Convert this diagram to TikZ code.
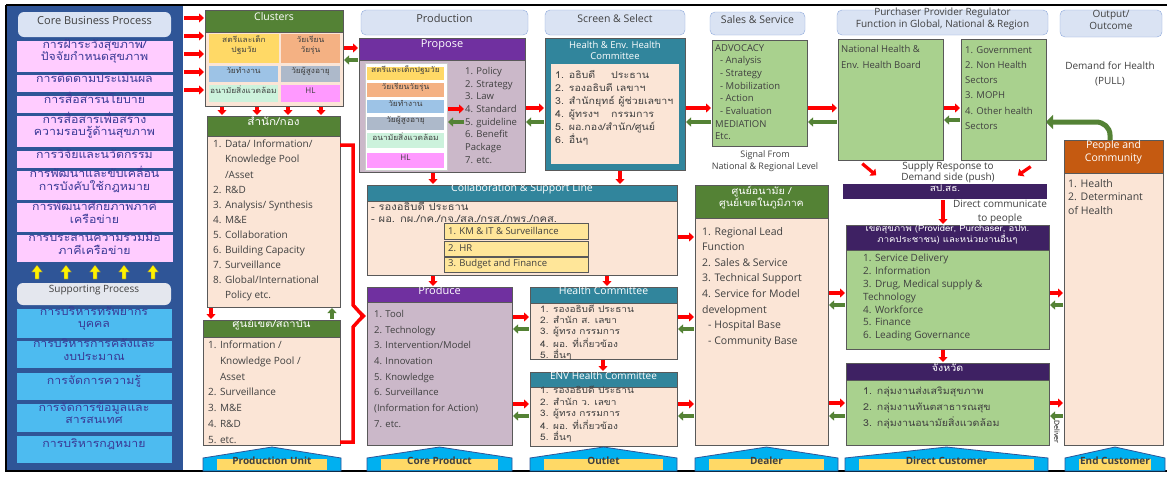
\documentclass[tikz,border=0pt]{standalone}
\usepackage{fontspec}
\setmainfont{Open Sans}
\newfontfamily\thaif[Script=Thai,FakeStretch=1.12]{Loma}
\usetikzlibrary{fit,arrows.meta,calc}
\pgfdeclarelayer{bg}
\pgfsetlayers{bg,main}
\definecolor{panelblue}{HTML}{2F5597}
\definecolor{navyt}{HTML}{3A3A96}
\definecolor{pinkc}{HTML}{FFCCFF}
\definecolor{cyanc}{HTML}{4DBBF0}
\definecolor{hdrfill}{HTML}{DAE3F3}
\definecolor{hdrdraw}{HTML}{8FAADC}
\definecolor{supfill}{HTML}{E4E7EE}
\definecolor{greenh}{HTML}{548235}
\definecolor{peach}{HTML}{FBE5D6}
\definecolor{cyel}{HTML}{FFD966}
\definecolor{cora}{HTML}{F4B183}
\definecolor{cblu}{HTML}{9DC3E6}
\definecolor{cgry}{HTML}{ADB9CA}
\definecolor{cmint}{HTML}{CCF2DC}
\definecolor{cpink}{HTML}{FF99FF}
\definecolor{purh}{HTML}{7030A0}
\definecolor{mauve}{HTML}{CBB8C9}
\definecolor{tealh}{HTML}{31859C}
\definecolor{lgreen}{HTML}{A9D18E}
\definecolor{dpur}{HTML}{3E2163}
\definecolor{orh}{HTML}{C55A11}
\definecolor{arred}{HTML}{FF0000}
\definecolor{argreen}{HTML}{548235}
\definecolor{basecyan}{HTML}{00B0F0}
\definecolor{yelbox}{HTML}{FFE699}
\definecolor{txt}{HTML}{404040}
\definecolor{edge}{HTML}{595959}
\tikzset{
  fbox/.style={inner sep=0pt, outer sep=0pt},
  pinkbox/.style={draw=panelblue, fill=pinkc, line width=0.6pt, text=navyt, align=center, font=\thaif\fontsize{11}{12.5}\selectfont},
  cyanbox/.style={draw=panelblue, fill=cyanc, line width=0.6pt, text=navyt, align=center, font=\thaif\fontsize{11}{12.5}\selectfont},
  topbox/.style={draw=hdrdraw, fill=hdrfill, rounded corners=5pt, text=txt, align=center, font=\fontsize{10.5}{12}\selectfont},
  bodyb/.style={draw=edge, line width=0.6pt},
  hbar/.style={draw=edge, line width=0.6pt, text=white, align=center},
  cellb/.style={text=txt, align=center, font=\thaif\fontsize{7.5}{10}\selectfont},
  listb/.style={inner sep=0pt, anchor=north west, align=left, text=txt},
  freetext/.style={inner sep=0pt, align=center, text=txt},
  rarr/.style={draw=arred, line width=3.2pt, -{Triangle[length=5pt,width=9pt]}, shorten <=1pt, shorten >=1pt},
  garr/.style={draw=argreen, line width=3.2pt, -{Triangle[length=5pt,width=9pt]}, shorten <=1pt, shorten >=1pt},
}
\newcommand{\bx}[7]{\node[fbox,#6,fit={(#2,#3)(#4,#5)}] (#1) {#7};}
\newcommand{\rR}[3]{\draw[rarr] (#1.east |- 0,#3) -- (#2.west |- 0,#3);}
\newcommand{\gL}[3]{\draw[garr] (#2.west |- 0,#3) -- (#1.east |- 0,#3);}
\newcommand{\rD}[3]{\draw[rarr] (#1.south -| #3,0) -- (#2.north -| #3,0);}
\newcommand{\gU}[3]{\draw[garr] (#2.north -| #3,0) -- (#1.south -| #3,0);}
\newcommand{\basebox}[4]{%
  \filldraw[fill=basecyan,draw=panelblue,line width=0.8pt] (#2,471) -- (#2,458) -- ({(#2+#3)/2},447) -- (#3,458) -- (#3,471) -- cycle;
  \node[fbox,fill=cyel,text=txt,font=\bfseries\fontsize{10}{10}\selectfont,fit={({#2+14},459)({#3-14},470)}] (#1) {#4};}
\newcommand{\yarr}[1]{\filldraw[fill=yellow,draw=black!60,line width=0.3pt] ({#1-2},279) -- ({#1-2},272) -- ({#1-5.5},272) -- (#1,265) -- ({#1+5.5},272) -- ({#1+2},272) -- ({#1+2},279) -- cycle;}
\begin{document}
\begin{tikzpicture}[x=1pt,y=-1pt]
\useasboundingbox (0,0) rectangle (1167,477);
\fill[white] (0,0) rectangle (1167,477);
% ---------- left panel
\bx{panel}{7}{6}{183}{470}{fill=panelblue}{}
\bx{core}{18}{12}{171}{37}{topbox,draw=none,rounded corners=6pt,font=\fontsize{11}{12}\selectfont}{Core Business Process}
\bx{p1}{16}{40}{173}{72}{pinkbox}{การฝ้าระวังสุขภาพ/\\ปัจจัยกำหนดสุขภาพ}
\bx{p2}{16}{74}{173}{92}{pinkbox}{การติดตามประเมินผล}
\bx{p3}{16}{95}{173}{113}{pinkbox}{การสื่อสารนโยบาย}
\bx{p4}{16}{115}{173}{147}{pinkbox}{การสื่อสารเพื่อสร้าง\\ความรอบรู้ด้านสุขภาพ}
\bx{p5}{16}{150}{173}{168}{pinkbox}{การวิจัยและนวัตกรรม}
\bx{p6}{16}{170}{173}{200}{pinkbox}{การพัฒนาและขับเคลื่อน\\การบังคับใช้กฎหมาย}
\bx{p7}{16}{202}{173}{232}{pinkbox}{การพัฒนาศักยภาพภาคี\\เครือข่าย}
\bx{p8}{16}{234}{173}{262}{pinkbox}{การประสานความร่วมมือ\\ภาคีเครือข่าย}
\yarr{37}\yarr{66}\yarr{95}\yarr{124}\yarr{153}
\bx{supp}{17}{283}{171}{305}{topbox,draw=none,fill=supfill,rounded corners=6pt,font=\fontsize{10}{12}\selectfont}{Supporting Process}
\bx{s1}{16}{308}{172}{338}{cyanbox}{การบริหารทรัพยากร\\บุคคล}
\bx{s2}{16}{340}{172}{368}{cyanbox}{การบริหารการคลังและ\\งบประมาณ}
\bx{s3}{16}{372}{172}{400}{cyanbox}{การจัดการความรู้}
\bx{s4}{16}{403}{172}{432}{cyanbox}{การจัดการข้อมูลและ\\สารสนเทศ}
\bx{s5}{16}{435}{172}{463}{cyanbox}{การบริหารกฎหมาย}
% frame
\draw[line width=1.4pt] (6,5) -- (1167,5);
\draw[line width=1.4pt] (6,5) -- (6,471) -- (1167,471);
% ---------- clusters
\bx{clus}{205}{10}{343}{106}{bodyb,fill=peach}{}
\bx{clush}{205}{10}{343}{32}{hbar,fill=greenh,font=\fontsize{10.5}{12}\selectfont}{Clusters}
\bx{c1}{209}{34}{279}{63}{cellb,fill=cyel}{สตรีและเด็ก\\ปฐมวัย}
\bx{c2}{281}{34}{340}{63}{cellb,fill=cora}{วัยเรียน\\วัยรุ่น}
\bx{c3}{209}{66}{278}{82}{cellb,fill=cblu}{วัยทำงาน}
\bx{c4}{281}{66}{340}{82}{cellb,fill=cgry}{วัยผู้สูงอายุ}
\bx{c5}{209}{85}{278}{102}{cellb,fill=cmint}{อนามัยสิ่งแวดล้อม}
\bx{c6}{281}{85}{340}{102}{cellb,fill=cpink,font=\fontsize{8}{10}\selectfont}{HL}
% ---------- samnak
\bx{sam}{207}{116}{340}{307}{bodyb,fill=peach}{}
\bx{samh}{207}{116}{340}{136}{hbar,fill=greenh,font=\thaif\fontsize{10.5}{12}\selectfont}{สำนัก/กอง}
\node[listb,font=\fontsize{10}{15.1}\selectfont] (saml) at (213,140) {1. Data/ Information/\\\phantom{1. }Knowledge Pool\\\phantom{1. }/Asset\\2. R\&D\\3. Analysis/ Synthesis\\4. M\&E\\5. Collaboration\\6. Building Capacity\\7. Surveillance\\8. Global/International\\\phantom{8. }Policy etc.};
% ---------- sun khet
\bx{sun}{203}{320}{340}{445}{bodyb,fill=peach}{}
\bx{sunh}{203}{320}{340}{337}{hbar,fill=greenh,font=\thaif\fontsize{10}{12}\selectfont}{ศูนย์เขต/สถาบัน}
\node[listb,font=\fontsize{10}{15.7}\selectfont] (sunl) at (208,341) {1. Information /\\\phantom{1. }Knowledge Pool /\\\phantom{1. }Asset\\2. Surveillance\\3. M\&E\\4. R\&D\\5. etc.};
\basebox{bpu}{203}{341}{Production Unit}
% ---------- production / propose
\bx{prodt}{361}{10}{528}{35}{topbox,font=\fontsize{11}{12}\selectfont}{Production}
\bx{prop}{359}{38}{525}{172}{bodyb,fill=mauve}{}
\bx{proph}{359}{38}{525}{60}{hbar,fill=purh,font=\fontsize{11}{12}\selectfont}{Propose}
\bx{ppan}{365}{63}{447}{170}{fill=white,draw=black!20}{}
\bx{q1}{367}{67}{444}{80}{cellb,fill=cyel}{สตรีและเด็กปฐมวัย}
\bx{q2}{367}{83}{444}{97}{cellb,fill=cora}{วัยเรียนวัยรุ่น}
\bx{q3}{367}{100}{444}{113}{cellb,fill=cblu}{วัยทำงาน}
\bx{q4}{367}{117}{444}{130}{cellb,fill=cgry}{วัยผู้สูงอายุ}
\bx{q5}{367}{133}{444}{148}{cellb,fill=cmint}{อนามัยสิ่งแวดล้อม}
\bx{q6}{367}{153}{444}{168}{cellb,fill=cpink,font=\fontsize{8}{10}\selectfont}{HL}
\node[listb,font=\fontsize{9.5}{12.7}\selectfont] (plist) at (465,67) {1. Policy\\2. Strategy\\3. Law\\4. Standard\\5. guideline\\6. Benefit\\Package\\7. etc.};
% ---------- screen & select
\bx{scrt}{545}{10}{685}{35}{topbox}{Screen \& Select}
\bx{scr}{545}{38}{685}{170}{bodyb,fill=tealh}{}
\node[freetext,text=white,font=\fontsize{9.5}{11}\selectfont] (scrh) at (615,50) {Health \& Env. Health\\Committee};
\bx{scri}{551}{64}{679}{164}{fill=peach}{}
\node[listb,font=\thaif\fontsize{9.5}{13}\selectfont] (scrl) at (555,70) {\makebox[56pt][l]{1. อธิบดี}ประธาน\\2. รองอธิบดี เลขาฯ\\3. สำนักยุทธ์ ผู้ช่วยเลขาฯ\\\makebox[56pt][l]{4. ผู้ทรงฯ}กรรมการ\\5. ผอ.กอง/สำนัก/ศูนย์\\6. อื่นๆ};
% ---------- sales
\bx{salt}{710}{12}{805}{35}{topbox}{Sales \& Service}
\bx{sal}{712}{40}{807}{146}{bodyb,fill=lgreen}{}
\node[listb,font=\fontsize{9.5}{12.7}\selectfont] (sall) at (715,44) {ADVOCACY\\\hspace*{5pt}- Analysis\\\hspace*{5pt}- Strategy\\\hspace*{5pt}- Mobilization\\\hspace*{5pt}- Action\\\hspace*{5pt}- Evaluation\\MEDIATION\\Etc.};
\node[freetext,font=\fontsize{9}{12}\selectfont] (signal) at (765,161) {Signal From\\National \& Regional Level};
% ---------- purchaser
\bx{purt}{837}{10}{1048}{35}{topbox,font=\fontsize{10}{12}\selectfont}{Purchaser Provider Regulator\\Function in Global, National \& Region}
\bx{nat}{838}{39}{943}{160}{bodyb,fill=lgreen}{}
\node[listb,font=\fontsize{9.5}{16}\selectfont] (natl) at (841,45) {National Health \&\\Env. Health Board};
\bx{gov}{961}{39}{1046}{160}{bodyb,fill=lgreen}{}
\node[listb,font=\fontsize{9.5}{15.3}\selectfont] (govl) at (965,46) {1. Government\\2. Non Health\\Sectors\\3. MOPH\\4. Other health\\Sectors};
% ---------- output
\bx{outt}{1060}{10}{1162}{37}{topbox,font=\fontsize{10}{12}\selectfont}{Output/\\Outcome}
\node[freetext,font=\fontsize{10}{15}\selectfont] (demand) at (1110,74) {Demand for Health\\(PULL)};
\bx{peo}{1064}{140}{1163}{445}{bodyb,fill=peach}{}
\bx{peoh}{1064}{140}{1163}{173}{hbar,fill=orh,font=\fontsize{10.5}{13}\selectfont}{People and\\Community};
\node[listb,font=\fontsize{10.5}{13.5}\selectfont] (peol) at (1068,179) {1. Health\\2. Determinant\\of Health};
% ---------- collaboration
\bx{collab}{367}{185}{677}{275}{bodyb,fill=peach}{}
\bx{collh}{367}{185}{677}{201}{hbar,fill=tealh,font=\fontsize{10.5}{12}\selectfont}{Collaboration \& Support Line}
\node[listb,font=\thaif\fontsize{10}{12}\selectfont] (colll) at (371,202) {- รองอธิบดี ประธาน\\- ผอ. กผ./กค./กจ./สล./กรส./กพร./กคส.};
\bx{k1}{444}{223}{588}{239}{bodyb,fill=yelbox}{}
\bx{k2}{444}{241}{588}{256}{bodyb,fill=yelbox}{}
\bx{k3}{444}{257}{588}{272}{bodyb,fill=yelbox}{}
\node[freetext,anchor=west,font=\fontsize{9.5}{11}\selectfont] (k1t) at (448,231) {1. KM \& IT \& Surveillance};
\node[freetext,anchor=west,font=\fontsize{9.5}{11}\selectfont] (k2t) at (448,248.5) {2. HR};
\node[freetext,anchor=west,font=\fontsize{9.5}{11}\selectfont] (k3t) at (448,264.5) {3. Budget and Finance};
% ---------- produce
\bx{produce}{367}{287}{512}{445}{bodyb,fill=mauve}{}
\bx{produceh}{367}{287}{512}{302}{hbar,fill=purh,font=\fontsize{11}{12}\selectfont}{Produce}
\node[listb,font=\fontsize{9.5}{15.7}\selectfont] (producel) at (374,310) {1. Tool\\2. Technology\\3. Intervention/Model\\4. Innovation\\5. Knowledge\\6. Surveillance\\(Information for Action)\\7. etc.};
\basebox{bcp}{367}{512}{Core Product}
% ---------- committees
\bx{hc}{530}{287}{677}{359}{bodyb,fill=peach}{}
\bx{hch}{530}{287}{677}{303}{hbar,fill=tealh,font=\fontsize{10.5}{12}\selectfont}{Health Committee}
\node[listb,font=\thaif\fontsize{9}{11}\selectfont] (hcl) at (540,305) {1. รองอธิบดี ประธาน\\2. สำนัก ส. เลขา\\3. ผู้ทรง กรรมการ\\4. ผอ. ที่เกี่ยวข้อง\\5. อื่นๆ};
\bx{env}{530}{372}{677}{446}{bodyb,fill=peach}{}
\bx{envh}{530}{372}{677}{387}{hbar,fill=tealh,font=\fontsize{10}{12}\selectfont}{ENV Health Committee}
\node[listb,font=\thaif\fontsize{9}{11.5}\selectfont] (envl) at (540,386) {1. รองอธิบดี ประธาน\\2. สำนัก ว. เลขา\\3. ผู้ทรง กรรมการ\\4. ผอ. ที่เกี่ยวข้อง\\5. อื่นๆ};
\basebox{bout}{530}{677}{Outlet}
% ---------- sun anamai
\bx{sunah}{695}{185}{828}{445}{bodyb,fill=peach}{}
\bx{sunahh}{695}{185}{828}{218}{hbar,fill=greenh,font=\thaif\fontsize{9.5}{12}\selectfont}{ศูนย์อนามัย /\\ศูนย์เขตในภูมิภาค}
\node[listb,font=\fontsize{10.5}{15.6}\selectfont] (sunahl) at (702,227) {1. Regional Lead\\Function\\2. Sales \& Service\\3. Technical Support\\4. Service for Model\\development\\\hspace*{6pt}- Hospital Base\\\hspace*{6pt}- Community Base};
\basebox{bdeal}{695}{838}{Dealer}
% ---------- right side
\bx{spsh}{843}{184}{1047}{199}{hbar,draw=none,fill=dpur,font=\thaif\fontsize{9}{11}\selectfont}{สป.สธ.}
\node[freetext,font=\fontsize{10}{11}\selectfont] (supply) at (948,172) {Supply Response to\\Demand side (push)};
\bx{khet}{846}{225}{1049}{349}{bodyb,fill=lgreen}{}
\bx{kheth}{846}{225}{1049}{250}{hbar,fill=dpur,font=\thaif\fontsize{8.5}{11}\selectfont}{เขตสุขภาพ (Provider, Purchaser, อปท.\\ภาคประชาชน) และหน่วยงานอื่นๆ}
\node[listb,font=\fontsize{10}{12.8}\selectfont] (khetl) at (863,254) {1. Service Delivery\\2. Information\\3. Drug, Medical supply \&\\Technology\\4. Workforce\\5. Finance\\6. Leading Governance};
\bx{cw}{846}{363}{1049}{445}{bodyb,fill=lgreen}{}
\bx{cwh}{846}{363}{1049}{380}{hbar,fill=dpur,font=\thaif\fontsize{9.5}{11}\selectfont}{จังหวัด}
\node[listb,font=\thaif\fontsize{9.5}{16}\selectfont] (cwl) at (863,387) {1. กลุ่มงานส่งเสริมสุขภาพ\\2. กลุ่มงานทันตสาธารณสุข\\3. กลุ่มงานอนามัยสิ่งแวดล้อม};
\basebox{bdc}{845}{1048}{Direct Customer}
\basebox{bec}{1065}{1165}{End Customer}
\node[freetext,text=black,rotate=-90,font=\fontsize{7}{8}\selectfont] (deliver) at (1057,432) {Deliver};
% ---------- background connectors
\begin{pgfonlayer}{bg}
\draw[arred,line width=3.2pt,-{Triangle[length=6pt,width=10pt]}] (collab.east |- 0,209) -- (peo.west |- 0,209);
\draw[argreen,line width=3.2pt,-{Triangle[length=6pt,width=10pt]}] (produce.north -| 452,0) -- (452,181) -| (scr.south -| 537,0);
\end{pgfonlayer}
\node[freetext,fill=white,inner sep=1pt,font=\fontsize{10}{11}\selectfont] (direct) at (1000,204) {Direct communicate};
\node[freetext,font=\fontsize{10}{11}\selectfont] (topeople) at (1000,219) {to people};
% ---------- bracket
\draw[arred,line width=3.5pt,line join=miter] (sam.east |- 0,145) -- (353,145) -- (353,305) -- (363,316) -- (353,327) -- (353,442) -- (sun.east |- 0,442);
\draw[rarr] (359,316) -- (produce.west |- 0,316);
% ---------- arrows
\foreach \yy in {18,36,54,72,90} {\rR{panel}{clus}{\yy}}
\rR{clus}{prop}{48} \gL{clus}{prop}{60}
\foreach \xx in {222,257,288,321} {\rD{clus}{sam}{\xx}}
\rD{sam}{sun}{211} \gU{sam}{sun}{332}
\rR{ppan}{plist}{109} \gL{ppan}{plist}{122}
\rR{prop}{scr}{108} \gL{prop}{scr}{122}
\rR{scr}{sal}{108} \gL{scr}{sal}{122}
\rR{sal}{nat}{108} \gL{sal}{nat}{122}
\rR{nat}{gov}{108} \gL{nat}{gov}{120}
\rD{prop}{collab}{433} \rD{scr}{collab}{620}
\rD{collab}{produce}{433} \rD{collab}{hc}{607}
\rR{collab}{sunah}{237}
\rR{produce}{hc}{317} \gL{produce}{hc}{329}
\rR{produce}{env}{404} \gL{produce}{env}{416}
\rD{hc}{env}{603}
\rR{hc}{sunah}{317} \gL{hc}{sunah}{329}
\rR{env}{sunah}{404} \gL{env}{sunah}{416}
\rR{sunah}{khet}{293} \gL{sunah}{khet}{305}
\rR{sunah}{cw}{403} \gL{sunah}{cw}{416}
\rR{khet}{peo}{293} \gL{khet}{peo}{305}
\rR{cw}{peo}{403} \gL{cw}{peo}{416}
\rD{spsh}{khet}{943} \rD{khet}{cw}{943}
\draw[rarr] ($(nat.south)+(-29,3)$) -- ($(spsh.north)+(-68,-8)$);
\draw[rarr] ($(gov.south)+(28,6)$) -- ($(spsh.north)+(72,-8)$);
\draw[argreen,line width=5pt,-{Triangle[length=7pt,width=14pt]}] (peo.north -| 1110,0) -- (1110,135) to[out=90,in=0] (1096,122) -- (gov.east |- 0,122);
\end{tikzpicture}
\end{document}
